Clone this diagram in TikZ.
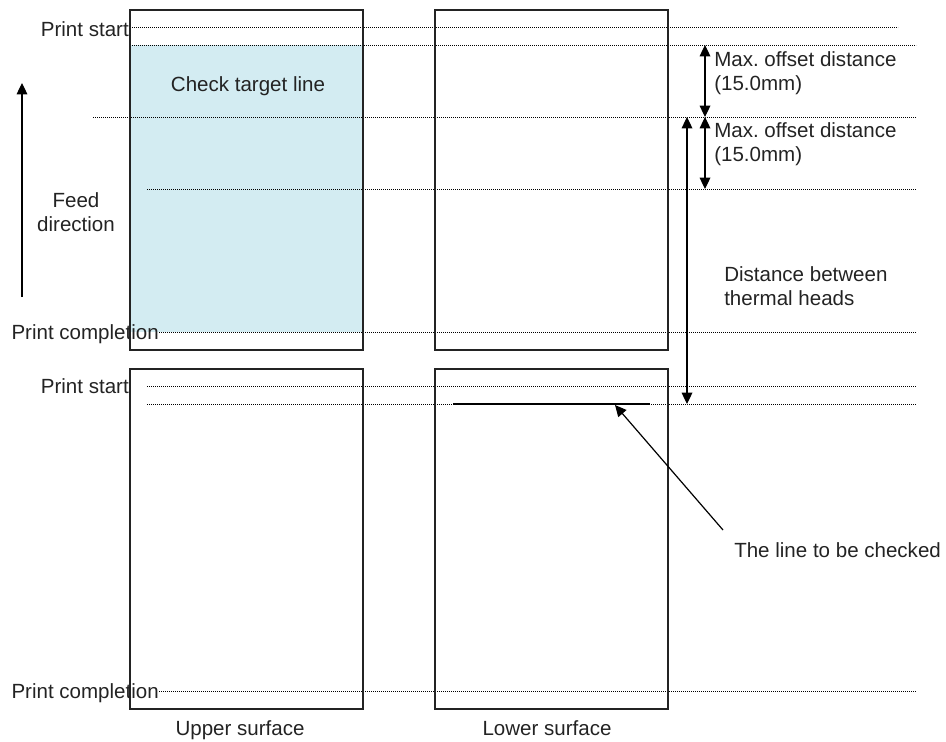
\documentclass[tikz,border=0pt]{standalone}
\usepackage{fontspec}
\setmainfont{Liberation Sans}
\usetikzlibrary{arrows.meta,positioning}
\definecolor{shadeblue}{RGB}{211,236,242}
\definecolor{inkgray}{RGB}{35,35,35}
\frenchspacing

\begin{document}
\begin{tikzpicture}[
    x=0.75pt, y=-0.75pt,
    % --- STYLES ---
    sheet/.style={
        rectangle, draw=inkgray, line width=1pt,
        minimum width=174.75pt,
        minimum height=255pt,
        inner sep=0pt
    },
    guide/.style={line width=0.6pt, dash pattern=on 0.6pt off 0.9pt},
    txt/.style={inner sep=0pt, text=inkgray, align=left,
        font=\fontsize{15.4}{17.3}\selectfont},
    flow/.style={-{Triangle[width=8pt,length=8.5pt]}, line width=0.9pt},
    dimline/.style={{Triangle[width=8pt,length=8.5pt]}-{Triangle[width=8pt,length=8.5pt]}, line width=0.9pt}
]
\useasboundingbox (0,0) rectangle (946,742);

% ===== 1. COORDINATES =====
\def\xEnd{916}
\def\xLeft{130}

% ===== 2. SHADED AREA & GUIDE LINES =====
\fill[shadeblue] (\xLeft,45) rectangle (363,332);

\draw[guide] (\xLeft,27) -- (898,27);
\draw[guide] (\xLeft,45) -- (\xEnd,45);
\draw[guide] (93,117) -- (\xEnd,117);
\draw[guide] (147,189) -- (\xEnd,189);
\draw[guide] (159,332) -- (\xEnd,332);
\draw[guide] (147,386) -- (\xEnd,386);
\draw[guide] (147,404) -- (\xEnd,404);
\draw[guide] (159,691) -- (\xEnd,691);

% ===== 3. SHEETS =====
\node[sheet] (upL) at (246.5,180) {};
\node[sheet] (upR) at (551.5,180) {};
\node[sheet] (loL) at (246.5,539) {};
\node[sheet] (loR) at (551.5,539) {};

% line to be checked
\coordinate (chkA) at (453,404);
\coordinate (chkB) at (650,404);
\draw[line width=0.9pt] (chkA) -- (chkB);

% ===== 4. TEXTS =====
% (base anchor of a two-line node = last line)
\node[txt, anchor=base east] (ps1) at (129,37) {Print start};
\node[txt, anchor=base east] (pc1) at (159,339) {Print completion};
\node[txt, anchor=base east] (ps2) at (129,393) {Print start};
\node[txt, anchor=base east] (pc2) at (159,698) {Print completion};

\node[txt, anchor=base] (target) at (248,92) {Check target line};
\node[txt, anchor=base, align=center] (feed) at (76,231) {Feed\\direction};

\node[txt, anchor=base west] (off1) at (714,90) {Max. offset distance\\(15.0mm)};
\node[txt, anchor=base west] (off2) at (714,161) {Max. offset distance\\(15.0mm)};
\node[txt, anchor=base west] (heads) at (724,305) {Distance between\\thermal heads};
\node[txt, anchor=base west] (checked) at (734,557) {The line to be checked};

\node[txt, anchor=base] (upper) at (240,735) {Upper surface};
\node[txt, anchor=base] (lower) at (547,735) {Lower surface};

% ===== 5. ARROWS =====
\coordinate (feedTail) at (22,297);
\coordinate (feedTip) at (22,83);
\draw[flow] (feedTail) -- (feedTip);

\coordinate (o1) at (705,45);
\coordinate (o2) at (705,117);
\coordinate (o3) at (705,189);
\draw[dimline] (o1) -- (o2);
\draw[dimline] (o2) -- (o3);

\coordinate (h1) at (687,117);
\coordinate (h2) at (687,404);
\draw[dimline] (h1) -- (h2);

\coordinate (ptrTail) at (723,530);
\coordinate (ptrTip) at (615,405);
\draw[flow] (ptrTail) -- (ptrTip);

\end{tikzpicture}
\end{document}
